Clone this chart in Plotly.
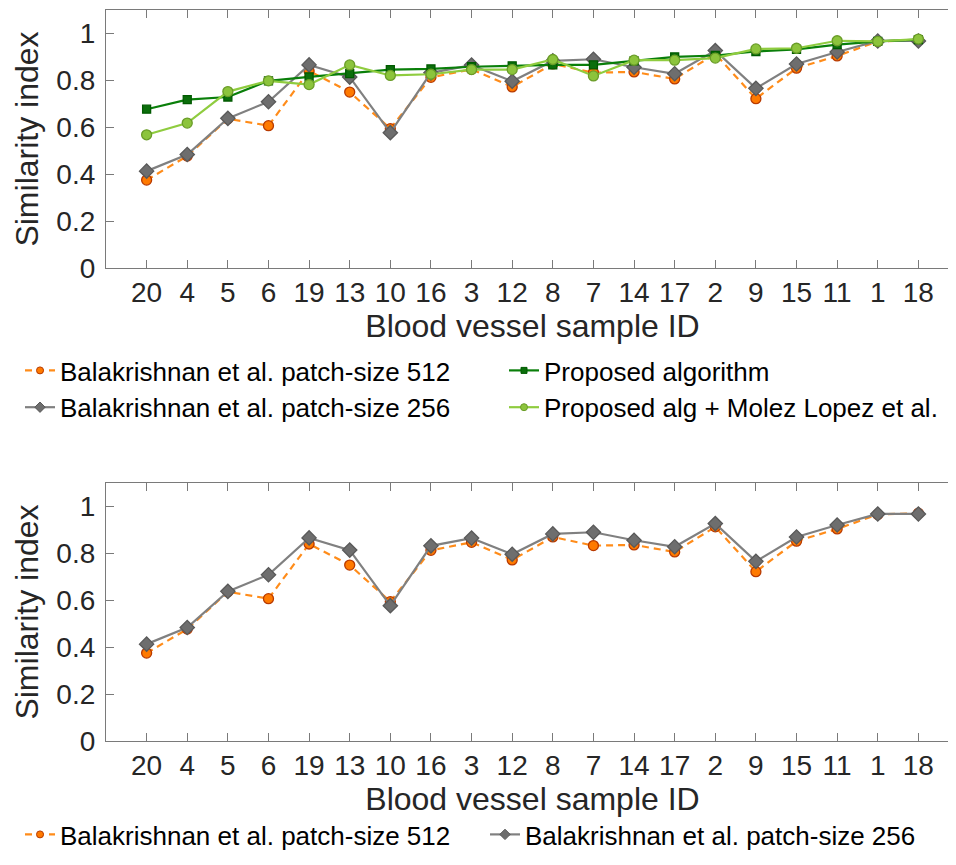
import plotly.graph_objects as go

sample_ids = ["20", "4", "5", "6", "19", "13", "10", "16", "3", "12",
              "8", "7", "14", "17", "2", "9", "15", "11", "1", "18"]
bala_512 = [0.375, 0.477, 0.636, 0.607, 0.840, 0.750, 0.594, 0.813, 0.847, 0.772,
            0.870, 0.833, 0.836, 0.806, 0.913, 0.722, 0.852, 0.904, 0.966, 0.971]
bala_256 = [0.413, 0.484, 0.638, 0.709, 0.866, 0.814, 0.577, 0.832, 0.865, 0.796,
            0.883, 0.890, 0.856, 0.828, 0.927, 0.766, 0.870, 0.921, 0.968, 0.968]
proposed = [0.677, 0.718, 0.729, 0.798, 0.815, 0.829, 0.846, 0.849, 0.858, 0.862,
            0.866, 0.866, 0.883, 0.900, 0.906, 0.923, 0.932, 0.952, 0.966, 0.974]
proposed_molez = [0.568, 0.618, 0.752, 0.798, 0.782, 0.866, 0.821, 0.826, 0.846, 0.846,
                  0.889, 0.819, 0.886, 0.886, 0.895, 0.934, 0.937, 0.969, 0.966, 0.976]
ytick_vals = [0, 0.2, 0.4, 0.6, 0.8, 1.0]
ytick_text = ["0", "0.2", "0.4", "0.6", "0.8", "1"]

NAME_512 = "Balakrishnan et al. patch-size 512"
NAME_256 = "Balakrishnan et al. patch-size 256"
NAME_PROP = "Proposed algorithm"
NAME_MOLEZ = "Proposed alg + Molez Lopez et al."

FONT = "Liberation Sans, Arial, sans-serif"
TXT = "#262626"
AX = "#7a7a7a"

STYLES = {
    NAME_512: dict(line=dict(color="#ff8c1a", width=2.2, dash="7px,5px"),
                   symbol="circle", size=10, fill="#ff7a00", edge="#b83a00", lsize=7),
    NAME_256: dict(line=dict(color="#808080", width=2.2),
                   symbol="diamond", size=11, fill="#6e6e6e", edge="#595959", lsize=8),
    NAME_PROP: dict(line=dict(color="#0a7f0a", width=2.2),
                    symbol="square", size=8, fill="#0b6e0b", edge="#005a00", lsize=6),
    NAME_MOLEZ: dict(line=dict(color="#8fcc3f", width=2.2),
                     symbol="circle", size=10, fill="#8cc43c", edge="#6a9c28", lsize=7),
}

fig = go.Figure()


def add_series(name, yvals, xa, ya):
    s = STYLES[name]
    fig.add_trace(go.Scatter(
        x=sample_ids, y=yvals, xaxis=xa, yaxis=ya, mode="lines+markers",
        name=name, showlegend=False, line=s["line"],
        marker=dict(symbol=s["symbol"], size=s["size"], color=s["fill"],
                    line=dict(color=s["edge"], width=1.3))))


def add_legend_entry(name, leg, xa, ya):
    s = STYLES[name]
    fig.add_trace(go.Scatter(
        x=[None], y=[None], xaxis=xa, yaxis=ya, mode="lines+markers",
        name=name, legend=leg, showlegend=True, line=s["line"],
        hoverinfo="skip",
        marker=dict(symbol=s["symbol"], size=s["lsize"], color=s["fill"],
                    line=dict(color=s["edge"], width=1))))


add_series(NAME_512, bala_512, "x", "y")
add_series(NAME_256, bala_256, "x", "y")
add_series(NAME_PROP, proposed, "x", "y")
add_series(NAME_MOLEZ, proposed_molez, "x", "y")
add_series(NAME_512, bala_512, "x2", "y2")
add_series(NAME_256, bala_256, "x2", "y2")

add_legend_entry(NAME_512, "legend", "x", "y")
add_legend_entry(NAME_256, "legend", "x", "y")
add_legend_entry(NAME_PROP, "legend2", "x", "y")
add_legend_entry(NAME_MOLEZ, "legend2", "x", "y")
add_legend_entry(NAME_512, "legend3", "x2", "y2")
add_legend_entry(NAME_256, "legend3", "x2", "y2")

W, H = 956, 865
ml, mr, mt, mb = 98, 5, 2, 132
ph = H - mt - mb


def ydom(top_px, bot_px):
    return [(H - mb - bot_px) / ph, (H - mb - top_px) / ph]


def xaxis(anchor):
    return dict(
        type="category", range=[-1, 20], domain=[0, 1], anchor=anchor,
        showline=True, linecolor=AX, linewidth=1.2, mirror="ticks",
        ticks="inside", ticklen=8, tickcolor=AX, tickwidth=1.2,
        showgrid=False, zeroline=False, automargin=False,
        tickfont=dict(family=FONT, size=28, color=TXT),
        ticklabelstandoff=-1,
        title=dict(text="Blood vessel sample ID", standoff=3,
                   font=dict(family=FONT, size=32, color=TXT)))


def yaxis(anchor, dom):
    return dict(
        range=[0, 1.1], domain=dom, anchor=anchor,
        tickmode="array", tickvals=ytick_vals, ticktext=ytick_text,
        showline=True, linecolor=AX, linewidth=1.2, mirror="ticks",
        ticks="inside", ticklen=8, tickcolor=AX, tickwidth=1.2,
        showgrid=False, zeroline=False, automargin=False,
        tickfont=dict(family=FONT, size=28, color=TXT),
        ticklabelstandoff=4,
        title=dict(text="Similarity index", standoff=8,
                   font=dict(family=FONT, size=32, color=TXT)))


def legend(xpx, ytop_px):
    return dict(
        x=(xpx - ml) / (W - ml - mr), y=(H - mb - ytop_px) / ph,
        xanchor="left", yanchor="top", orientation="v",
        bgcolor="rgba(0,0,0,0)", borderwidth=0,
        font=dict(family=FONT, size=26, color="#000000"),
        tracegroupgap=0, itemwidth=30)


leg3 = legend(12, 803)
leg3["orientation"] = "h"
leg3["entrywidth"] = 420

fig.update_layout(
    width=W, height=H,
    margin=dict(l=ml, r=mr, t=mt, b=mb),
    paper_bgcolor="white", plot_bgcolor="white",
    xaxis=xaxis("y"),
    yaxis=yaxis("x", ydom(2, 260)),
    xaxis2=xaxis("y2"),
    yaxis2=yaxis("x2", ydom(475, 733)),
    legend=legend(12, 339),
    legend2=legend(496, 339),
    legend3=leg3,
)

fig.write_html("out.html")
